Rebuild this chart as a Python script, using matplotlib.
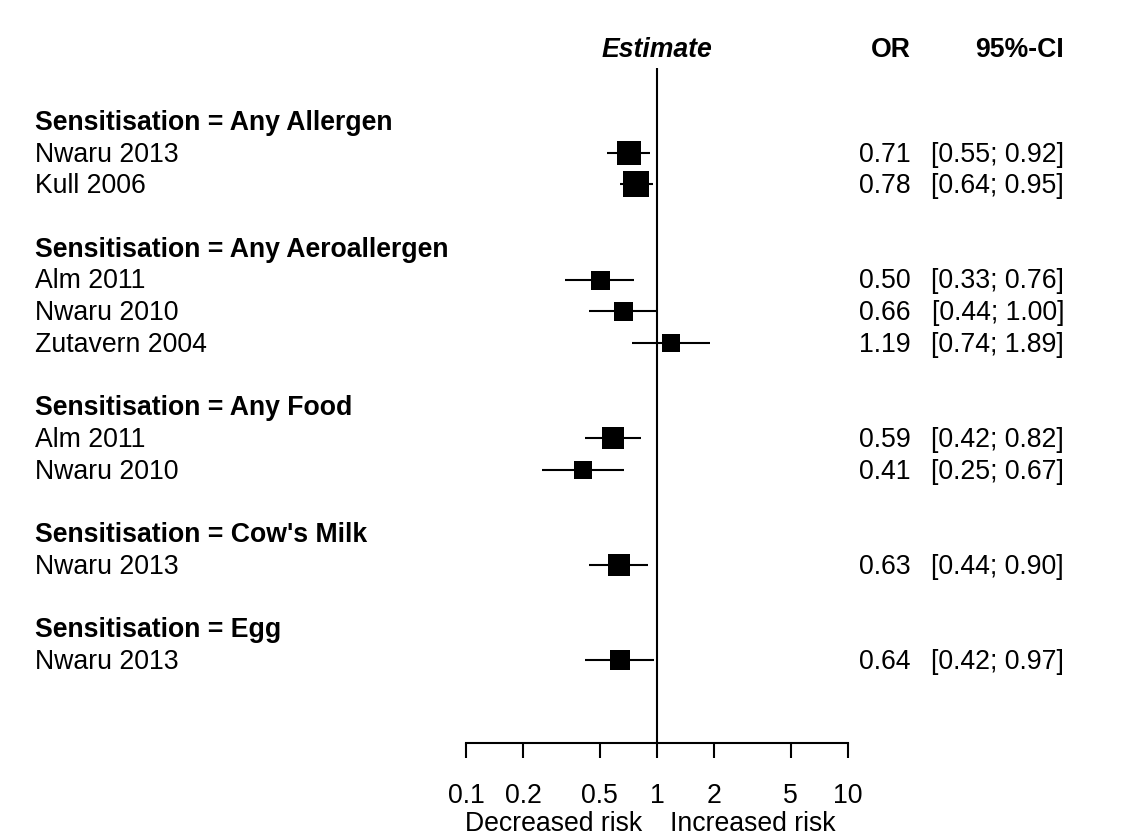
import matplotlib
matplotlib.use("Agg")
import matplotlib.pyplot as plt
import matplotlib.transforms as mtransforms

plt.rcParams['font.family'] = ['Liberation Sans', 'DejaVu Sans']

# subgroups and how many studies each one holds
groups = ["Any Allergen", "Any Aeroallergen", "Any Food", "Cow's Milk", "Egg"]
group_sizes = [2, 3, 2, 1, 1]

studies = ["Nwaru 2013", "Kull 2006",
           "Alm 2011", "Nwaru 2010", "Zutavern 2004",
           "Alm 2011", "Nwaru 2010",
           "Nwaru 2013",
           "Nwaru 2013"]
odds = [0.71, 0.78, 0.50, 0.66, 1.19, 0.59, 0.41, 0.63, 0.64]
ci_low = [0.55, 0.64, 0.33, 0.44, 0.74, 0.42, 0.25, 0.44, 0.42]
ci_high = [0.92, 0.95, 0.76, 1.00, 1.89, 0.82, 0.67, 0.90, 0.97]

# box side in pixels (study weight)
box_px = [24, 27, 19, 19, 18, 22, 18, 22, 20]

tick_vals = [0.1, 0.2, 0.5, 1, 2, 5, 10]
tick_text = ["0.1", "0.2", "0.5", "1", "2", "5", "10"]

W, H = 1140, 836
FS = 19.2
row_h = 31.7
first_px = 121


def row_of(py):
    return (py - first_px) / row_h


fig = plt.figure(figsize=(W / 100, H / 100), dpi=100)
ax = fig.add_axes([466 / W, 0, (848 - 466) / W, 1])
ax.set_xscale('log')
ax.set_xlim(0.1, 10)
ax.set_ylim(row_of(H), row_of(0))

for s in ['top', 'left', 'right']:
    ax.spines[s].set_visible(False)
ax.spines['bottom'].set_position(('data', row_of(743)))
ax.spines['bottom'].set_bounds(0.1, 10)
ax.spines['bottom'].set_linewidth(1.5)
ax.set_xticks(tick_vals)
ax.set_xticklabels(tick_text)
ax.set_xticks([], minor=True)
ax.set_yticks([])
ax.tick_params(axis='x', direction='out', length=10.8, width=1.5,
               pad=18, labelsize=FS)
ax.patch.set_alpha(0)

# reference line at OR = 1
ax.vlines(1, row_of(68), row_of(743), color='black', lw=1.5)

# text columns: x in figure fraction, y in rows, nudged 2px down
left_tr = mtransforms.offset_copy(
    mtransforms.blended_transform_factory(fig.transFigure, ax.transData),
    fig=fig, x=0, y=-2, units='dots')
mid_tr = mtransforms.offset_copy(ax.transData, fig=fig, x=0, y=-2, units='dots')

# header
hy = row_of(48)
ax.text(1, hy, "Estimate", ha='center', va='center', fontsize=FS,
        fontweight='bold', fontstyle='italic', transform=mid_tr)
ax.text(911 / W, hy, "OR", ha='right', va='center', fontsize=FS,
        fontweight='bold', transform=left_tr)
ax.text(1064 / W, hy, "95%-CI", ha='right', va='center', fontsize=FS,
        fontweight='bold', transform=left_tr)

row = 0
i = 0
for g, n in zip(groups, group_sizes):
    ax.text(35 / W, row, "Sensitisation = " + g, ha='left', va='center',
            fontsize=FS, fontweight='bold', transform=left_tr)
    row += 1
    for k in range(n):
        ax.text(35 / W, row, studies[i], ha='left', va='center',
                fontsize=FS, transform=left_tr)
        ax.hlines(row, ci_low[i], ci_high[i], color='black', lw=1.5)
        ax.plot(odds[i], row, marker='s', ms=box_px[i] * 0.72,
                color='black', mew=0)
        ax.text(911 / W, row, "%.2f" % odds[i], ha='right', va='center',
                fontsize=FS, transform=left_tr)
        ax.text(1064 / W, row, "[%.2f; %.2f]" % (ci_low[i], ci_high[i]),
                ha='right', va='center', fontsize=FS, transform=left_tr)
        row += 1
        i += 1
    row += 1

# direction labels under the axis
ly = row_of(831)
ax.text(1, ly, "Decreased risk", ha='right', va='baseline', fontsize=FS,
        transform=mtransforms.offset_copy(ax.transData, fig=fig, x=-15, y=0, units='dots'))
ax.text(1, ly, "Increased risk", ha='left', va='baseline', fontsize=FS,
        transform=mtransforms.offset_copy(ax.transData, fig=fig, x=13, y=0, units='dots'))

fig.savefig('out.png', dpi=100)
